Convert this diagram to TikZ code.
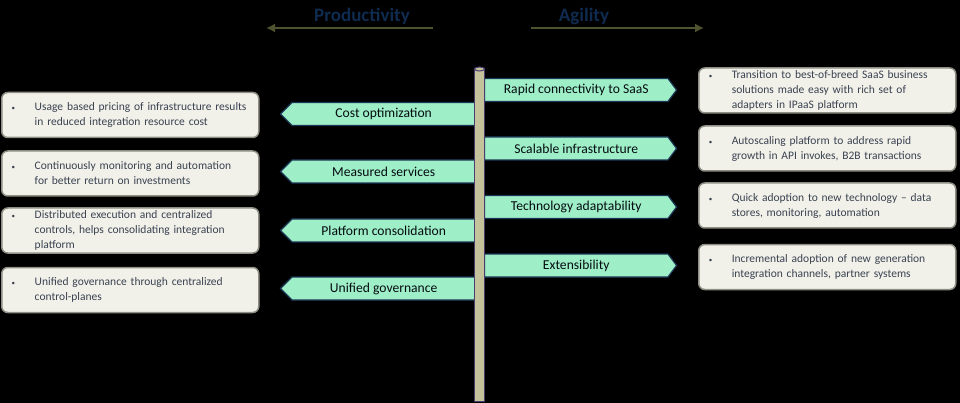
\documentclass[tikz,border=0pt]{standalone}
\usepackage{fontspec}
\setmainfont{Carlito}
\usetikzlibrary{shapes.symbols,arrows.meta}
\definecolor{mint}{HTML}{9EEFC7}
\definecolor{navyline}{HTML}{1B3654}
\definecolor{titleblue}{HTML}{0F2B4F}
\definecolor{olivearrow}{HTML}{50532F}
\definecolor{boxfill}{HTML}{F1F1EA}
\definecolor{boxline}{HTML}{8E8E84}
\definecolor{poletan}{HTML}{C3C29A}
\definecolor{poleline}{HTML}{4A3D70}
\definecolor{bodytext}{HTML}{3A4250}
\newcommand\bulitem[1]{\makebox[23pt][l]{\fontsize{7}{7}\selectfont\textbullet}\parbox[t]{213pt}{\raggedright #1}}
\tikzset{
	goleft/.style={signal, signal to=west, signal from=nowhere, signal pointer angle=90, draw=navyline, line width=1.2pt, fill=mint, minimum width=195pt, minimum height=23pt, inner sep=0pt, font=\fontsize{13.6}{15}\selectfont, text=black!80!navyline},
	goright/.style={goleft, signal to=east, signal pointer angle=106, minimum width=192pt},
	infobox/.style={draw=boxline, line width=1.5pt, fill=boxfill, rounded corners=6pt, inner xsep=10pt, inner ysep=0pt, text width=237pt, minimum height=45pt, align=left, font=\fontsize{11.5}{15}\selectfont, text=bodytext},
	headline/.style={font=\fontsize{19}{21}\selectfont\bfseries, text=titleblue},
	trend/.style={draw=olivearrow, line width=2.6pt, -{Latex[length=9pt,width=9pt]}}
}
\begin{document}
\begin{tikzpicture}[x=1pt,y=-1pt]
		%%%%% START %%%%%
		
		\fill[black] (0,0) rectangle (960,403);
		\useasboundingbox (0,0) rectangle (960,403);
		
		\node[headline] (prod) at (362,16) {Productivity};
		\node[headline] (agil) at (584,16) {Agility};
		\coordinate (prodtail) at (433,28);
		\coordinate (prodhead) at (266,28);
		\coordinate (agiltail) at (531,28);
		\coordinate (agilhead) at (704,28);
		\draw[trend] (prodtail) -- (prodhead);
		\draw[trend] (agiltail) -- (agilhead);
		
		\node[goleft, anchor=east] (cost) at (476,114) {Cost optimization};
		\node[goleft, anchor=east] (measured) at (476,171.5) {Measured services};
		\node[goleft, anchor=east] (consol) at (476,230.5) {Platform consolidation};
		\node[goleft, anchor=east] (govern) at (476,288.5) {Unified governance};
		
		\node[goright, anchor=west] (saas) at (484,90) {Rapid connectivity to SaaS};
		\node[goright, anchor=west] (scale) at (484,148.5) {Scalable infrastructure};
		\node[goright, anchor=west] (tech) at (484,207) {Technology adaptability};
		\node[goright, anchor=west] (extend) at (484,265.5) {Extensibility};
		
		\node[infobox, anchor=west] (costbox) at (1,115) {\bulitem{Usage based pricing of infrastructure results\\ in reduced integration resource cost}};
		\node[infobox, anchor=west] (measuredbox) at (1,173.5) {\bulitem{Continuously monitoring and automation\\ for better return on investments}};
		\node[infobox, anchor=west] (consolbox) at (1,230.5) {\bulitem{Distributed execution and centralized\\ controls, helps consolidating integration\\ platform}};
		\node[infobox, anchor=west] (governbox) at (1,290) {\bulitem{Unified governance through centralized\\ control-planes}};
		
		\node[infobox, anchor=west] (saasbox) at (698,90.5) {\bulitem{Transition to best-of-breed SaaS business\\ solutions made easy with rich set of\\ adapters in IPaaS platform}};
		\node[infobox, anchor=west] (scalebox) at (698,148.5) {\bulitem{Autoscaling platform to address rapid\\ growth in API invokes, B2B transactions}};
		\node[infobox, anchor=west] (techbox) at (698,205.5) {\bulitem{Quick adoption to new technology -- data\\ stores, monitoring, automation}};
		\node[infobox, anchor=west] (extendbox) at (698,267) {\bulitem{Incremental adoption of new generation\\ integration channels, partner systems}};
		
		\draw[fill=poletan, draw=poleline, line width=1pt] (474.5,69) rectangle (484.5,401.5);
		\draw[fill=poletan, draw=poleline, line width=1pt] (479.5,69) ellipse (5pt and 2pt);
		
		%%%%% END %%%%%
	\end{tikzpicture}
\end{document}
